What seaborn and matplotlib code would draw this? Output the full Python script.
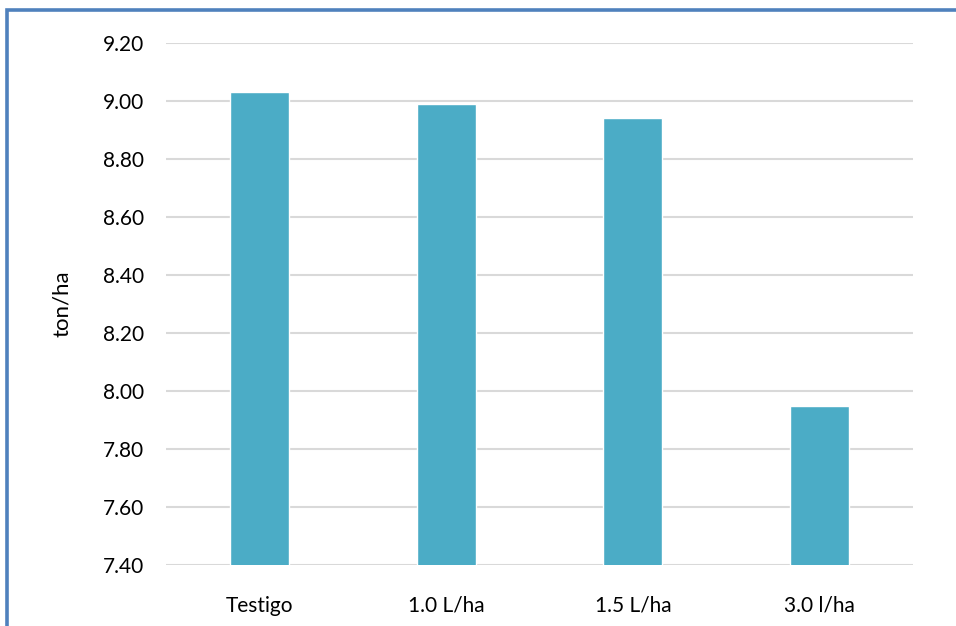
import matplotlib
matplotlib.use("Agg")
import matplotlib.pyplot as plt
import seaborn as sns
import pandas as pd
from matplotlib.patches import Rectangle

categories = ["Testigo", "1.0 L/ha", "1.5 L/ha", "3.0 l/ha"]
values = [9.03, 8.99, 8.94, 7.95]
yticks = [7.40, 7.60, 7.80, 8.00, 8.20, 8.40, 8.60, 8.80, 9.00, 9.20]

sns.set_theme(style="white")
plt.rcParams['font.family'] = ['Lato', 'DejaVu Sans']

df = pd.DataFrame({"cat": categories, "val": values})

fig = plt.figure(figsize=(9.56, 6.26), dpi=100)
ax = fig.add_axes([166/956, 1-565/626, (913-166)/956, (565-43)/626])
sns.barplot(data=df, x="cat", y="val", color="#4BACC6", saturation=1, width=0.316, ax=ax, zorder=3)
ax.set_ylim(7.40, 9.20)
ax.set_yticks(yticks)
ax.set_yticklabels([f"{t:.2f}" for t in yticks], fontsize=15, color="#000000")
ax.set_xticks(range(len(categories)))
ax.set_xticklabels(categories, fontsize=15, color="#000000")
ax.set_xlim(-0.5, len(categories)-0.5)
ax.yaxis.grid(True, color="#D9D9D9", linewidth=1.5, zorder=0)
ax.set_axisbelow(True)
for s in ax.spines.values():
    s.set_visible(False)
ax.tick_params(axis="both", length=0)
ax.tick_params(axis="y", pad=16)
ax.tick_params(axis="x", pad=22)
ax.set_xlabel("")
ax.set_ylabel("ton/ha", fontsize=16, color="#000000", labelpad=22)

fig.patches.append(Rectangle((6.5/956, -0.5), 2.0, 0.5 + 1 - 9.5/626, transform=fig.transFigure,
                             fill=False, edgecolor="#4F81BD", linewidth=2.6))

fig.savefig("out.png", dpi=100)
